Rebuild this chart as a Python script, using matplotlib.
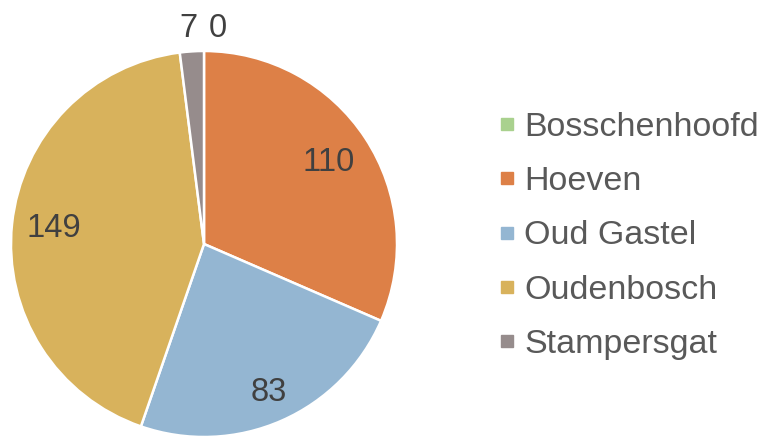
import numpy as np
import matplotlib
matplotlib.use("Agg")
import matplotlib.pyplot as plt
from matplotlib.lines import Line2D

places = ["Bosschenhoofd", "Hoeven", "Oud Gastel", "Oudenbosch", "Stampersgat"]
counts = [0, 110, 83, 149, 7]
colors = ["#a9d18e", "#dd8047", "#94b6d2", "#d8b25c", "#968c8c"]

# label placement: distance from centre (in radii) and small angle nudge
label_dist = [1.12, 0.77, 0.84, 0.78, 1.12]
label_nudge = [-3.6, 0, 0, 0, 0.5]

plt.rcParams['font.family'] = ['Liberation Sans', 'DejaVu Sans']

W, H, dpi = 767, 437, 100
fig = plt.figure(figsize=(W / dpi, H / dpi), dpi=dpi)
ax = fig.add_axes([0, 0, 1, 1])

cx, cy, r = 204, 244, 193   # pie centre and radius in pixels
wedges, _ = ax.pie(counts, colors=colors, startangle=90, counterclock=False,
                   radius=1, center=(0, 0),
                   wedgeprops=dict(edgecolor="white", linewidth=1.8))

for w, v, d, n in zip(wedges, counts, label_dist, label_nudge):
    ang = np.deg2rad((w.theta1 + w.theta2) / 2 + n)
    ax.text(d * np.cos(ang), d * np.sin(ang), str(v), ha="center", va="center",
            fontsize=23.5, color="#404040")

ax.set_aspect("auto")
ax.set_xlim(-cx / r, (W - cx) / r)
ax.set_ylim(-(H - cy) / r, cy / r)
ax.axis("off")

handles = [Line2D([], [], marker="s", linestyle="", markersize=9,
                  markerfacecolor=c, markeredgecolor=c) for c in colors]
leg = fig.legend(handles, places, loc="center left", bbox_to_anchor=(0.63, 0.46),
                 frameon=False, fontsize=24.5, handlelength=0.6, handletextpad=0.2,
                 labelspacing=0.68, borderaxespad=0)
for t in leg.get_texts():
    t.set_color("#595959")

fig.savefig("out.png", dpi=dpi)
